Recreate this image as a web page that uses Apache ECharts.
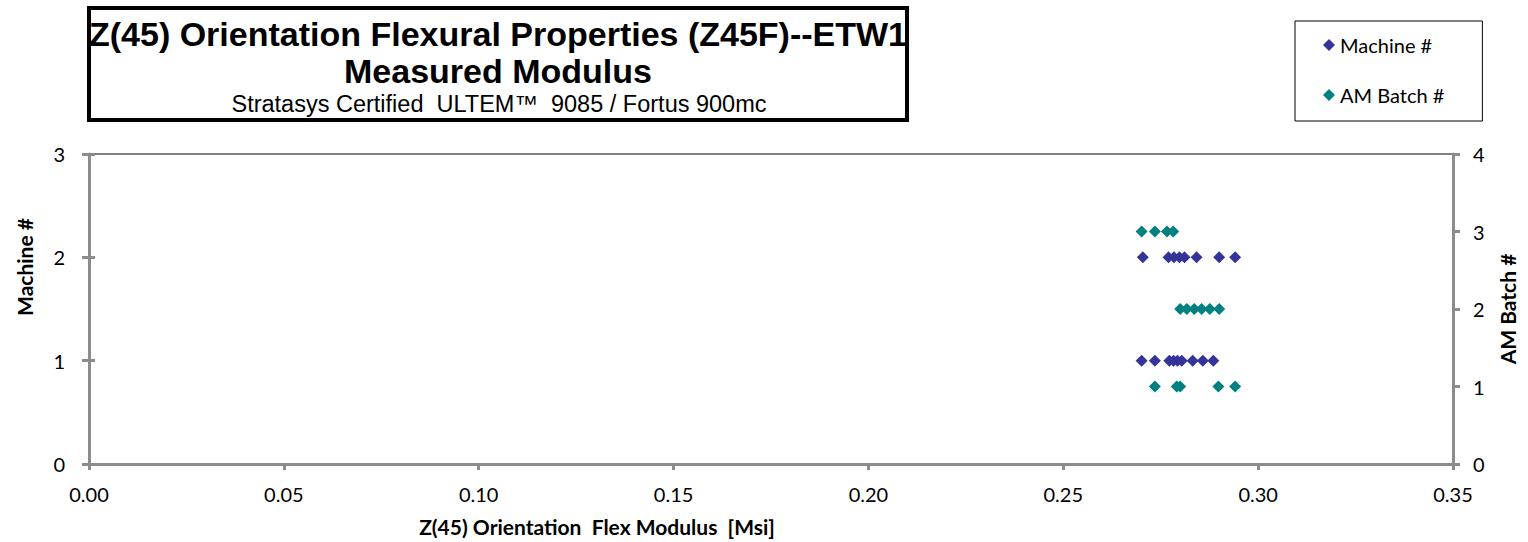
<!DOCTYPE html>
<html>
<head>
<meta charset="utf-8">
<title>Z(45) Orientation Flexural Properties</title>
<script src="https://cdn.jsdelivr.net/npm/echarts@6/dist/echarts.min.js"></script>
<style>
  html, body { margin: 0; padding: 0; background: #fff; }
  #container { width: 1528px; height: 542px; }
</style>
</head>
<body>
<div id="container"></div>
<script>
// modulus values [Msi], grouped by machine / batch
var machine1 = [0.2701, 0.2735, 0.2772, 0.2783, 0.2793, 0.2804, 0.2832, 0.2858, 0.2885];
var machine2 = [0.2704, 0.2770, 0.2784, 0.2798, 0.2811, 0.2842, 0.2900, 0.2941];
var batch1 = [0.2735, 0.2791, 0.2800, 0.2898, 0.2941];
var batch2 = [0.2800, 0.2817, 0.2836, 0.2855, 0.2876, 0.2900];
var batch3 = [0.2701, 0.2735, 0.2766, 0.2782];

var xTicks = [0, 0.05, 0.10, 0.15, 0.20, 0.25, 0.30, 0.35];
var machineTicks = [0, 1, 2, 3];
var batchTicks = [0, 1, 2, 3, 4];

function pairs(list, y) {
  return list.map(function (v) { return [v, y]; });
}
var machineData = pairs(machine1, 1).concat(pairs(machine2, 2));
var batchData = pairs(batch1, 1).concat(pairs(batch2, 2), pairs(batch3, 3));

var labelFont = 'Lato, "Open Sans", sans-serif';
var titleFont = '"Liberation Sans", Arial, sans-serif';
var axisGrey = '#8c8c8c';

var dom = document.getElementById('container');
var myChart = echarts.init(dom, null, { renderer: 'svg' });

var option = {
  animation: false,
  graphic: [
    {
      type: 'rect',
      shape: { x: 89, y: 8, width: 818, height: 112 },
      style: { fill: '#fff', stroke: '#000', lineWidth: 4 }
    },
    {
      type: 'text', x: 498, y: 34,
      style: {
        text: 'Z(45) Orientation Flexural Properties (Z45F)--ETW1',
        font: 'bold 34px ' + titleFont, fill: '#000',
        textAlign: 'center', textVerticalAlign: 'middle'
      }
    },
    {
      type: 'text', x: 498, y: 71,
      style: {
        text: 'Measured Modulus',
        font: 'bold 34px ' + titleFont, fill: '#000',
        textAlign: 'center', textVerticalAlign: 'middle'
      }
    },
    {
      type: 'text', x: 499, y: 104,
      style: {
        text: 'Stratasys Certified  ULTEM\u2122  9085 / Fortus 900mc',
        font: '23.5px ' + titleFont, fill: '#000',
        textAlign: 'center', textVerticalAlign: 'middle'
      }
    }
  ],
  legend: {
    orient: 'vertical',
    left: 1295,
    top: 21,
    padding: [14, 38, 16, 28],
    itemGap: 30,
    itemWidth: 12,
    itemHeight: 12,
    borderColor: '#000',
    borderWidth: 1,
    textStyle: { fontFamily: labelFont, fontSize: 20, color: '#000' },
    data: ['Machine #', 'AM Batch #']
  },
  grid: {
    left: 89, right: 75, top: 154, bottom: 78,
    show: true, borderColor: '#000', borderWidth: 1
  },
  xAxis: {
    type: 'value',
    min: xTicks[0], max: xTicks[xTicks.length - 1], interval: 0.05,
    name: 'Z(45) Orientation  Flex Modulus  [Msi]',
    nameLocation: 'middle',
    nameGap: 52,
    nameTextStyle: {
      fontFamily: labelFont, fontSize: 21, fontWeight: 'bold', color: '#000',
      padding: [0, 348, 0, 0]
    },
    axisLine: { lineStyle: { color: axisGrey, width: 3 } },
    axisTick: { show: true, length: 6, lineStyle: { color: axisGrey, width: 3 } },
    axisLabel: {
      fontFamily: labelFont, fontSize: 20, color: '#000', margin: 20,
      formatter: function (v) { return v.toFixed(2); }
    },
    splitLine: { show: false }
  },
  yAxis: [
    {
      type: 'value',
      min: machineTicks[0], max: machineTicks[machineTicks.length - 1], interval: 1,
      name: 'Machine #',
      nameLocation: 'middle',
      nameGap: 54,
      nameRotate: 90,
      nameTextStyle: {
        fontFamily: labelFont, fontSize: 21, fontWeight: 'bold', color: '#000',
        padding: [0, 0, 0, 84]
      },
      axisLine: { show: true, lineStyle: { color: axisGrey, width: 3 } },
      axisTick: { show: true, length: 7, lineStyle: { color: axisGrey, width: 3 } },
      axisLabel: { fontFamily: labelFont, fontSize: 20, color: '#000', margin: 24 },
      splitLine: { show: false }
    },
    {
      type: 'value',
      position: 'right',
      min: batchTicks[0], max: batchTicks[batchTicks.length - 1], interval: 1,
      name: 'AM Batch #',
      nameLocation: 'middle',
      nameGap: 44,
      nameRotate: 90,
      nameTextStyle: { fontFamily: labelFont, fontSize: 21, fontWeight: 'bold', color: '#000' },
      axisLine: { show: true, lineStyle: { color: axisGrey, width: 3 } },
      axisTick: { show: true, length: 7, lineStyle: { color: axisGrey, width: 3 } },
      axisLabel: { fontFamily: labelFont, fontSize: 20, color: '#000', margin: 20 },
      splitLine: { show: false }
    },
    {
      // inner half of the crossing ticks on the left axis
      type: 'value',
      position: 'left',
      min: machineTicks[0], max: machineTicks[machineTicks.length - 1], interval: 1,
      axisLine: { show: false },
      axisTick: { show: true, inside: true, length: 6, lineStyle: { color: axisGrey, width: 3 } },
      axisLabel: { show: false },
      splitLine: { show: false }
    }
  ],
  series: [
    {
      name: 'Machine #',
      type: 'scatter',
      yAxisIndex: 0,
      symbol: 'diamond',
      symbolSize: 12,
      itemStyle: { color: '#333399', opacity: 1 },
      data: machineData
    },
    {
      name: 'AM Batch #',
      type: 'scatter',
      yAxisIndex: 1,
      symbol: 'diamond',
      symbolSize: 12,
      itemStyle: { color: '#008080', opacity: 1 },
      data: batchData
    }
  ]
};

if (option && typeof option === 'object') {
  myChart.setOption(option, true);
}
</script>
</body>
</html>
